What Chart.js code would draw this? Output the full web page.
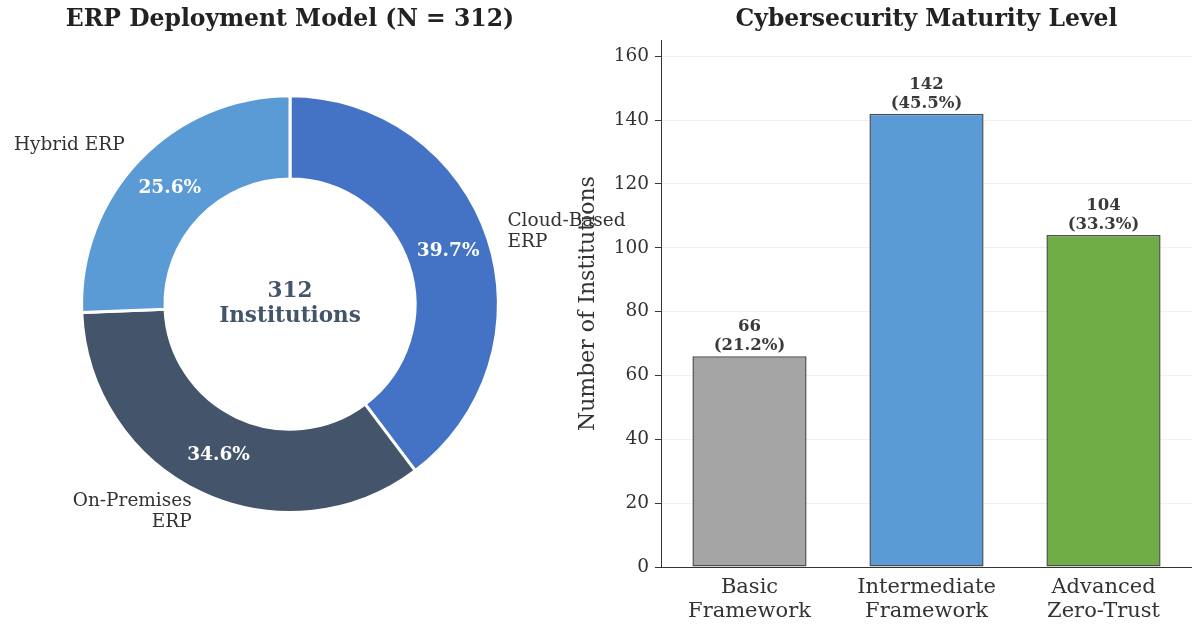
<!DOCTYPE html>
<html>
<head>
<meta charset="utf-8">
<script src="https://cdn.jsdelivr.net/npm/chart.js@4/dist/chart.umd.min.js"></script>
<style>
    html, body { margin: 0; padding: 0; background: #ffffff; }
    body { width: 1192px; height: 628px; position: relative; overflow: hidden; }
    #erp-wrap { position: absolute; left: -80px; top: 0; width: 740px; height: 628px; }
    #cyber-wrap { position: absolute; left: 560px; top: 0; width: 632px; height: 628px; }
</style>
</head>
<body>
<div id="cyber-wrap"><canvas id="cyber-chart"></canvas></div>
<div id="erp-wrap"><canvas id="erp-chart"></canvas></div>
<script>
// ERP deployment split
const deployLabels = ["Cloud-Based\nERP", "On-Premises\nERP", "Hybrid ERP"];
const deployCounts = [124, 108, 80];
const deployColors = ["#4472C4", "#44546A", "#5B9BD5"];

// Cybersecurity maturity
const maturityLabels = [["Basic", "Framework"], ["Intermediate", "Framework"], ["Advanced", "Zero-Trust"]];
const maturityCounts = [66, 142, 104];
const maturityColors = ["#A5A5A5", "#5B9BD5", "#70AD47"];
const yTicks = [0, 20, 40, 60, 80, 100, 120, 140, 160];

const FONT = "'DejaVu Serif', serif";
const totalInstitutions = deployCounts.reduce((a, b) => a + b, 0);

Chart.defaults.font.family = FONT;
Chart.defaults.color = "#333333";

function pct(v) {
    return (v / totalInstitutions * 100).toFixed(1) + "%";
}

// labels around the doughnut + text in the hole
const doughnutText = {
    id: "doughnutText",
    afterDatasetsDraw(chart) {
        const ctx = chart.ctx;
        const arcs = chart.getDatasetMeta(0).data;
        ctx.save();
        arcs.forEach((arc, i) => {
            const mid = (arc.startAngle + arc.endAngle) / 2;
            const cx = arc.x, cy = arc.y, r = arc.outerRadius;

            // percentage inside the ring
            ctx.font = "bold 18.5px " + FONT;
            ctx.fillStyle = "#ffffff";
            ctx.textAlign = "center";
            ctx.textBaseline = "middle";
            ctx.fillText(pct(deployCounts[i]), cx + Math.cos(mid) * r * 0.8, cy + Math.sin(mid) * r * 0.8);

            // category name outside
            const lx = cx + Math.cos(mid) * r * 1.1;
            const ly = cy + Math.sin(mid) * r * 1.1;
            const lines = deployLabels[i].split("\n");
            const lh = 21;
            ctx.font = "18.5px " + FONT;
            ctx.fillStyle = "#333333";
            ctx.textAlign = Math.cos(mid) >= 0 ? "left" : "right";
            lines.forEach((ln, k) => {
                ctx.fillText(ln, lx, ly + (k - (lines.length - 1) / 2) * lh);
            });
        });

        const c = arcs[0];
        ctx.font = "bold 21.5px " + FONT;
        ctx.fillStyle = "#44546A";
        ctx.textAlign = "center";
        ctx.textBaseline = "middle";
        ctx.fillText(String(totalInstitutions), c.x, c.y - 13);
        ctx.fillText("Institutions", c.x, c.y + 12);
        ctx.restore();
    }
};

// count and share above each bar
const barText = {
    id: "barText",
    afterDatasetsDraw(chart) {
        const ctx = chart.ctx;
        ctx.save();
        ctx.font = "bold 16.5px " + FONT;
        ctx.fillStyle = "#3a3a3a";
        ctx.textAlign = "center";
        ctx.textBaseline = "alphabetic";
        chart.getDatasetMeta(0).data.forEach((bar, i) => {
            ctx.fillText("(" + pct(maturityCounts[i]) + ")", bar.x, bar.y - 6);
            ctx.fillText(String(maturityCounts[i]), bar.x, bar.y - 25);
        });
        ctx.restore();
    }
};

new Chart(document.getElementById("erp-chart"), {
    type: "doughnut",
    data: {
        labels: deployLabels,
        datasets: [{
            data: deployCounts,
            backgroundColor: deployColors,
            borderColor: "#ffffff",
            borderWidth: 3,
            hoverOffset: 0
        }]
    },
    options: {
        responsive: true,
        maintainAspectRatio: false,
        animation: false,
        cutout: "60%",
        rotation: 0,
        layout: { padding: { left: 0, right: 0, top: 0, bottom: 114 } },
        plugins: {
            legend: { display: false },
            tooltip: { enabled: false },
            title: {
                display: true,
                text: "ERP Deployment Model (N = " + totalInstitutions + ")",
                font: { size: 23.5, weight: "bold", family: FONT },
                color: "#222222",
                padding: { top: 6, bottom: 60 }
            }
        }
    },
    plugins: [doughnutText]
});

new Chart(document.getElementById("cyber-chart"), {
    type: "bar",
    data: {
        labels: maturityLabels,
        datasets: [{
            data: maturityCounts,
            backgroundColor: maturityColors,
            borderColor: "#4d4d4d",
            borderWidth: 1.5,
            borderSkipped: false,
            barPercentage: 0.645,
            categoryPercentage: 1
        }]
    },
    options: {
        responsive: true,
        maintainAspectRatio: false,
        animation: false,
        layout: { padding: { left: 0, right: 0, top: 0, bottom: 0 } },
        scales: {
            x: {
                offset: true,
                grid: { display: false, drawOnChartArea: false, tickLength: 6, tickColor: "#333333" },
                border: { display: true, color: "#333333", width: 1 },
                ticks: {
                    font: { size: 21, family: FONT, lineHeight: 1.14 },
                    color: "#333333",
                    padding: 3,
                    maxRotation: 0
                },
                afterFit(scale) { scale.height = 61; }
            },
            y: {
                min: 0,
                max: 165,
                afterBuildTicks(scale) { scale.ticks = yTicks.map(v => ({ value: v })); },
                grid: {
                    color: "#f0f0f0",
                    lineWidth: 1,
                    tickLength: 6,
                    tickColor: "#333333",
                    drawTicks: true
                },
                border: { display: true, color: "#333333", width: 1 },
                ticks: {
                    font: { size: 18.5, family: FONT },
                    color: "#333333",
                    padding: 6
                },
                title: {
                    display: true,
                    text: "Number of Institutions",
                    font: { size: 22, family: FONT },
                    color: "#333333",
                    padding: { top: 15, bottom: 0 }
                },
                afterFit(scale) { scale.width = 101; }
            }
        },
        plugins: {
            legend: { display: false },
            tooltip: { enabled: false },
            title: {
                display: true,
                fullSize: false,
                text: "Cybersecurity Maturity Level",
                font: { size: 23.5, weight: "bold", family: FONT },
                color: "#222222",
                padding: { top: 6, bottom: 6 }
            }
        }
    },
    plugins: [barText]
});
</script>
</body>
</html>
